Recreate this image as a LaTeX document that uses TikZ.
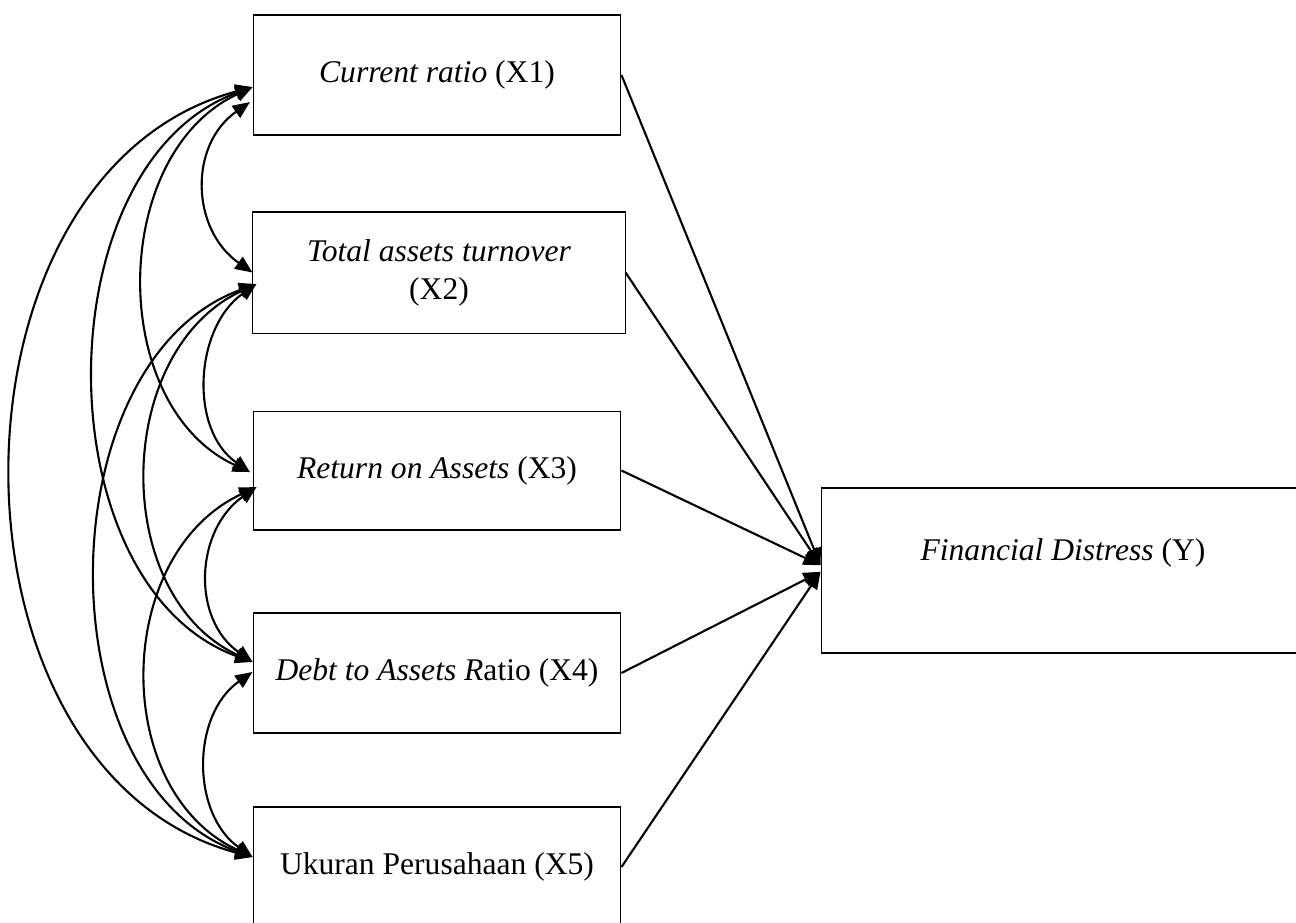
\documentclass[tikz,border=0pt]{standalone}
\usepackage{fontspec}
\setmainfont{Liberation Serif}
\usetikzlibrary{arrows.meta}

\begin{document}
\begin{tikzpicture}[x=0.38pt, y=0.38pt,
  every node/.style = {shape=rectangle, align=center, inner sep=0pt,
    font=\fontsize{12}{14.4}\selectfont}]
    \tikzstyle{var}=[draw, line width=0.4pt, minimum width=139.8pt, minimum height=45.6pt]
    \tikzstyle{corr}=[{Triangle[length=6.5pt,width=5.5pt]}-{Triangle[length=6.5pt,width=5.5pt]}, line width=0.8pt]
    \tikzstyle{effect}=[-{Triangle[length=6.5pt,width=5.5pt]}, line width=0.8pt]
  \useasboundingbox (0,0) rectangle (1296,922);
  \clip (0,0) rectangle (1296,922);
  % variables
  \node[var] (x1) at (437,847) {\textit{Current ratio} (X1)};
  \node[var, minimum width=141.4pt, minimum height=46pt] (x2) at (439,649.5)
    {\textit{Total assets turnover}\\(X2)};
  \node[var, minimum height=45.2pt] (x3) at (437,451.5) {\textit{Return on Assets} (X3)};
  \node[var] (x4) at (437,249) {\textit{Debt to Assets R}atio (X4)};
  \node[var] (x5) at (437,55) {Ukuran Perusahaan (X5)};
  \node[var, minimum width=183.9pt, minimum height=62.7pt, text depth=15.6pt] (y)
    at (1063,351.5) {\textit{Financial Distress} (Y)};
  % tips of the curved arrows
  \coordinate (x1u) at ([yshift=-4.6pt]x1.west);
  \coordinate (x1l) at ([xshift=-1pt, yshift=-10.3pt]x1.west);
  \coordinate (x2u) at (x2.west);
  \coordinate (x2l) at ([xshift=1.5pt, yshift=-4.4pt]x2.west);
  \coordinate (x3u) at ([xshift=-1pt, yshift=-0.6pt]x3.west);
  \coordinate (x3l) at ([xshift=1.5pt, yshift=-6.3pt]x3.west);
  \coordinate (x4u) at ([yshift=4.2pt]x4.west);
  \coordinate (x4l) at ([yshift=0.4pt]x4.west);
  \coordinate (x5u) at ([yshift=3.8pt]x5.west);
  \coordinate (yu) at ([yshift=2pt]y.west);
  \coordinate (yl) at ([yshift=-0.5pt]y.west);
  % correlations
  \foreach \a/\b/\o/\i/\d in {x1l/x2u/215/145/28.5pt, x1u/x3u/205/155/60pt,
      x1u/x4u/200/160/85pt, x1u/x5u/195/165/126pt, x2l/x3u/215/145/28.5pt,
      x2l/x4u/205/155/60pt, x2l/x5u/200/160/85pt, x3l/x4u/215/145/28.5pt,
      x3l/x5u/205/155/60pt, x4l/x5u/215/145/28.5pt}
    \draw[corr] (\a) to[out=\o, in=\i, distance=\d] (\b);
  % effects on Y
  \foreach \n/\t in {x1/yu, x2/yu, x3/yu, x4/yl, x5/yl}
    \draw[effect] (\n.east) -- (\t);
\end{tikzpicture}
\end{document}
